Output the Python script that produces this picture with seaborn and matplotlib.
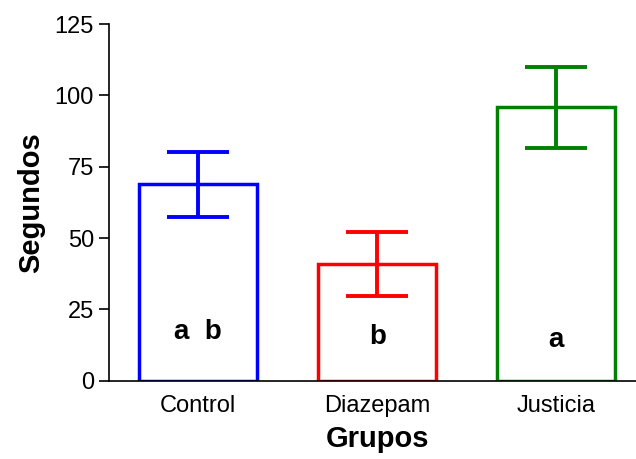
import matplotlib
matplotlib.use("Agg")
import matplotlib.pyplot as plt
import seaborn as sns
import pandas as pd

groups = ["Control", "Diazepam", "Justicia"]
means = [68.8, 40.8, 95.8]
sem = [11.5, 11.2, 14.2]
letters = ["a  b", "b", "a"]
colors = ["#0000ff", "#ff0000", "#008000"]

sns.set_theme(style="ticks")
plt.rcParams["font.family"] = ["Liberation Sans", "DejaVu Sans"]

df = pd.DataFrame({"Grupos": groups, "Segundos": means})

fig = plt.figure(figsize=(6.36, 4.59), dpi=100)
ax = fig.add_axes([0.1719, 0.1706, 1.0156 - 0.1719, 0.7771])

sns.barplot(data=df, x="Grupos", y="Segundos", hue="Grupos", palette=colors,
            fill=False, width=0.66, linewidth=2.5, legend=False, ax=ax, errorbar=None)

for i, (m, s, c) in enumerate(zip(means, sem, colors)):
    ax.errorbar(i, m, yerr=s, color=c, capsize=22, capthick=2.8, elinewidth=2.8, fmt="none")

letter_y = [14.6, 12.75, 11.9]
for i, (t, yy) in enumerate(zip(letters, letter_y)):
    ax.text(i, yy, t, ha="center", va="baseline", fontsize=20, fontweight="bold", color="black")

ax.set_xlim(-0.495, 2.5)
ax.set_ylim(0, 125)
ax.set_yticks([0, 25, 50, 75, 100, 125])
ax.spines["top"].set_visible(False)
ax.spines["right"].set_visible(False)
for sp in ["left", "bottom"]:
    ax.spines[sp].set_linewidth(1.2)
    ax.spines[sp].set_color("black")
    ax.spines[sp].set_zorder(5)
ax.tick_params(axis="y", length=7, width=1.2, labelsize=17, pad=4, colors="black")
ax.tick_params(axis="x", length=0, labelsize=17, pad=10, colors="black")
ax.set_xlabel("Grupos", fontsize=21, fontweight="bold", labelpad=6, color="black")
ax.set_ylabel("Segundos", fontsize=21, fontweight="bold", labelpad=7, color="black")

fig.savefig("out.png", dpi=100)
